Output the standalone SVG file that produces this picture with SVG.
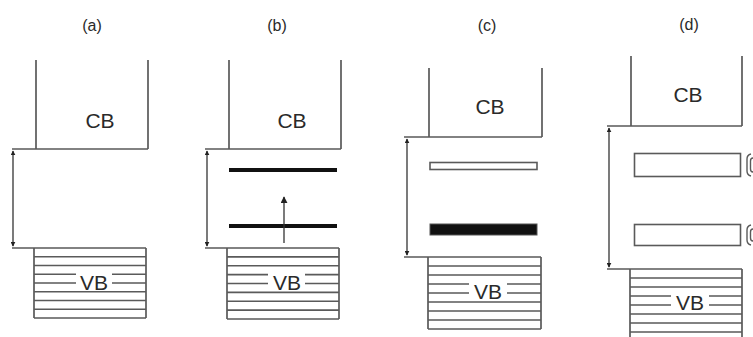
<svg xmlns="http://www.w3.org/2000/svg" width="753" height="337" viewBox="0 0 753 337">
<style>
.ln{stroke:#5a5a5a;stroke-width:1.7;fill:none}
.ar{stroke:#333;stroke-width:1.3;fill:none;marker-start:url(#ah);marker-end:url(#ah)}
.t{font-family:"Liberation Sans",Arial,sans-serif;font-size:21px;fill:#2a2a2a;text-anchor:middle;dominant-baseline:central}
.lb{font-family:"Liberation Sans",Arial,sans-serif;font-size:16px;fill:#2a2a2a;text-anchor:middle;dominant-baseline:central}
.lvl{stroke:#111;stroke-width:4;fill:none}
.hol{stroke:#5a5a5a;stroke-width:1.6;fill:#fff}
.br{stroke:#5a5a5a;stroke-width:1.4;fill:none}
</style>
<defs>
<marker id="ah" viewBox="0 0 8 8" refX="7" refY="4" markerWidth="5" markerHeight="5" orient="auto-start-reverse" markerUnits="userSpaceOnUse">
<path d="M0,0 L8,4 L0,8 z" fill="#222"/>
</marker>
<marker id="ah1" viewBox="0 0 8 8" refX="7" refY="4" markerWidth="7" markerHeight="7" orient="auto" markerUnits="userSpaceOnUse">
<path d="M0,0 L8,4 L0,8 z" fill="#222"/>
</marker>
</defs>

<g id="panel-a">
<text class="lb" x="92" y="25">(a)</text>
<g id="a-cb">
<path class="ln" d="M36,60 V149 M148,60 V149 M12,149 H148"/>
<text class="t" x="100" y="120">CB</text>
</g>
<g id="a-vb">
<path class="ln" d="M12,248 H146 M34,248 V318 M146,248 V318 M34,256.75 H146 M34,265.5 H146 M34,274.25 H146 M34,283 H146 M34,291.75 H146 M34,300.5 H146 M34,309.25 H146 M34,318 H146"/>
<rect x="76" y="273" width="36" height="18" fill="#fff"/>
<text class="t" x="94" y="282">VB</text>
</g>
</g>

<g id="panel-b">
<text class="lb" x="277" y="25">(b)</text>
<g id="b-cb">
<path class="ln" d="M229,60 V149 M341,60 V149 M205,149 H341"/>
<text class="t" x="292" y="120">CB</text>
</g>
<g id="b-levels">
<line class="lvl" x1="229" y1="170" x2="337" y2="170"/>
<line class="lvl" x1="229" y1="226" x2="337" y2="226"/>
</g>
<g id="b-vb">
<path class="ln" d="M205,248 H339 M227,248 V319 M339,248 V319 M227,256.9 H339 M227,265.75 H339 M227,274.6 H339 M227,283.5 H339 M227,292.4 H339 M227,301.25 H339 M227,310.1 H339 M227,319 H339"/>
<rect x="268" y="273" width="37" height="18" fill="#fff"/>
<text class="t" x="287" y="282">VB</text>
</g>
</g>

<g id="panel-c">
<text class="lb" x="487" y="25">(c)</text>
<g id="c-cb">
<path class="ln" d="M429,68 V137 M542,68 V137 M404,137 H542"/>
<text class="t" x="490" y="106">CB</text>
</g>
<g id="c-levels">
<rect class="hol" x="430" y="162.5" width="107" height="7"/>
<rect x="430" y="224" width="107" height="11" fill="#111" stroke="#555" stroke-width="1"/>
</g>
<g id="c-vb">
<path class="ln" d="M404,257 H541 M428,257 V329 M541,257 V329 M428,266 H541 M428,275 H541 M428,284 H541 M428,293 H541 M428,302 H541 M428,311 H541 M428,320 H541 M428,329 H541"/>
<rect x="469" y="282" width="38" height="18" fill="#fff"/>
<text class="t" x="488" y="291">VB</text>
</g>
</g>

<g id="panel-d">
<text class="lb" x="689" y="24">(d)</text>
<g id="d-cb">
<path class="ln" d="M631,56 V126 M742,56 V126 M607,126 H742"/>
<text class="t" x="688" y="94">CB</text>
</g>
<g id="d-levels">
<rect class="hol" x="634.5" y="153.5" width="106" height="23"/>
<rect class="hol" x="634.5" y="224.5" width="106" height="21"/>
<path class="br" d="M751,154 Q747,155 747,159 V171 Q747,175 751,176 M753,158 Q750.5,158 750.5,161 V169 Q750.5,172 753,172"/>
<path class="br" d="M751,225 Q747,226 747,230 V240 Q747,244 751,245 M753,229 Q750.5,229 750.5,232 V238 Q750.5,241 753,241"/>
</g>
<g id="d-vb">
<path class="ln" d="M607,269 H742 M630,269 V337 M742,269 V337 M630,278 H742 M630,287 H742 M630,296 H742 M630,305 H742 M630,314 H742 M630,323 H742 M630,332 H742"/>
<rect x="671" y="293" width="38" height="19" fill="#fff"/>
<text class="t" x="690" y="302">VB</text>
</g>
</g>

<g id="connectors">
<line class="ar" x1="13" y1="151" x2="13" y2="246"/>
<line class="ar" x1="207" y1="151" x2="207" y2="246"/>
<line x1="284" y1="243" x2="284" y2="197" stroke="#333" stroke-width="1.3" marker-end="url(#ah1)"/>
<line class="ar" x1="407" y1="139" x2="407" y2="255"/>
<line class="ar" x1="609" y1="128" x2="609" y2="267"/>
</g>
</svg>
